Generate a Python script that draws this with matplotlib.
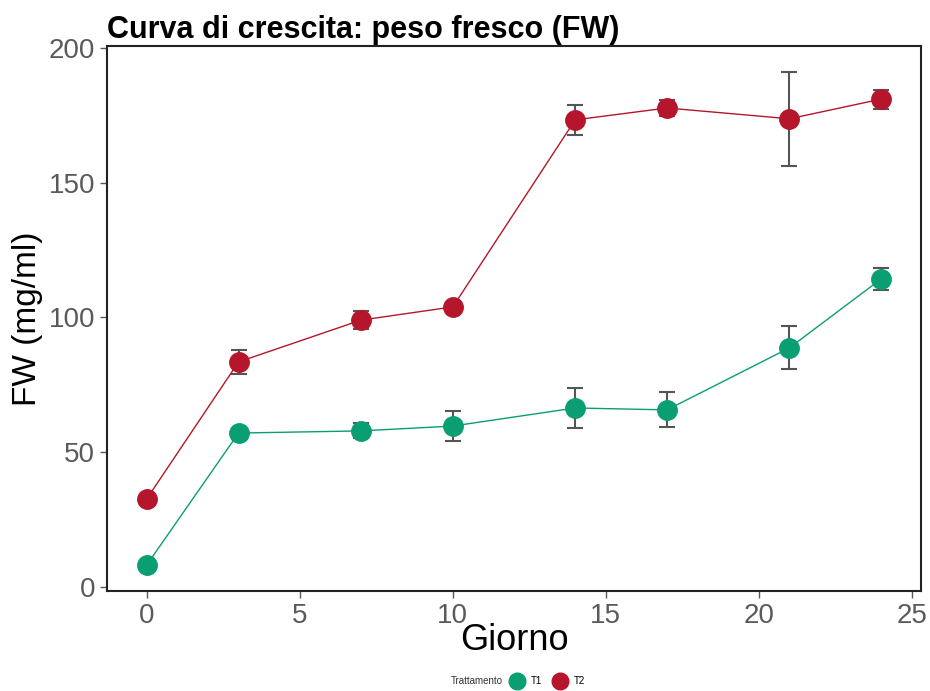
import numpy as np
import matplotlib.pyplot as plt
from matplotlib.lines import Line2D

plt.rcParams['font.family'] = ['Liberation Sans', 'DejaVu Sans']

giorni = [0, 3, 7, 10, 14, 17, 21, 24]
t1_mean = [8.2, 57.1, 57.9, 59.7, 66.4, 65.7, 88.7, 114.3]
t1_err = [0.8, 1.0, 2.8, 5.7, 7.6, 6.5, 8.0, 4.0]
t2_mean = [32.7, 83.5, 99.0, 103.9, 173.3, 177.7, 173.7, 181.0]
t2_err = [0.8, 4.5, 3.2, 1.0, 5.6, 3.0, 17.4, 3.5]

col_t1 = '#0a9e73'
col_t2 = '#b5162b'

fig = plt.figure(figsize=(9.3, 6.91), dpi=100)
ax = fig.add_axes([107/930, 1 - 591/691, (921-107)/930, (591-46)/691])

for mean, err, col in [(t1_mean, t1_err, col_t1), (t2_mean, t2_err, col_t2)]:
    ax.errorbar(giorni, mean, yerr=err, fmt='none', ecolor='#555555',
                elinewidth=1.5, capsize=6, capthick=1.5, zorder=2)
    ax.plot(giorni, mean, color=col, lw=1, zorder=3)
    ax.plot(giorni, mean, 'o', color=col, ms=14, mec=col, zorder=4)

ax.set_xlim(-1.3, 25.3)
ax.set_ylim(-1.5, 200.7)
ax.set_xticks([0, 5, 10, 15, 20, 25])
ax.set_yticks([0, 50, 100, 150, 200])
ax.tick_params(labelsize=20, colors='#5a5a5a', length=5, width=1)
for s in ax.spines.values():
    s.set_linewidth(1.5)
    s.set_color('#222222')
ax.set_xlabel('Giorno', fontsize=26, labelpad=-4)
ax.set_ylabel('FW (mg/ml)', fontsize=24, labelpad=4)
fig.text(107/930, 1 - 30/691, 'Curva di crescita: peso fresco (FW)',
         fontsize=22, fontweight='bold', va='center', ha='left')

# legend at bottom: title to the left, then T1 / T2
fig.text(503/930, 1 - 681/691, 'Trattamento', fontsize=7, ha='right',
         va='center', color='#333333')
handles = [Line2D([], [], marker='o', ls='none', color=col_t1, ms=12),
           Line2D([], [], marker='o', ls='none', color=col_t2, ms=12)]
fig.legend(handles, ['T1', 'T2'], loc='center left',
           bbox_to_anchor=(506/930, 1 - 681/691), ncol=2, frameon=False,
           fontsize=7, handletextpad=0.3, columnspacing=0.8,
           handlelength=2.2, borderaxespad=0, borderpad=0)

fig.savefig('out.png', dpi=100)
